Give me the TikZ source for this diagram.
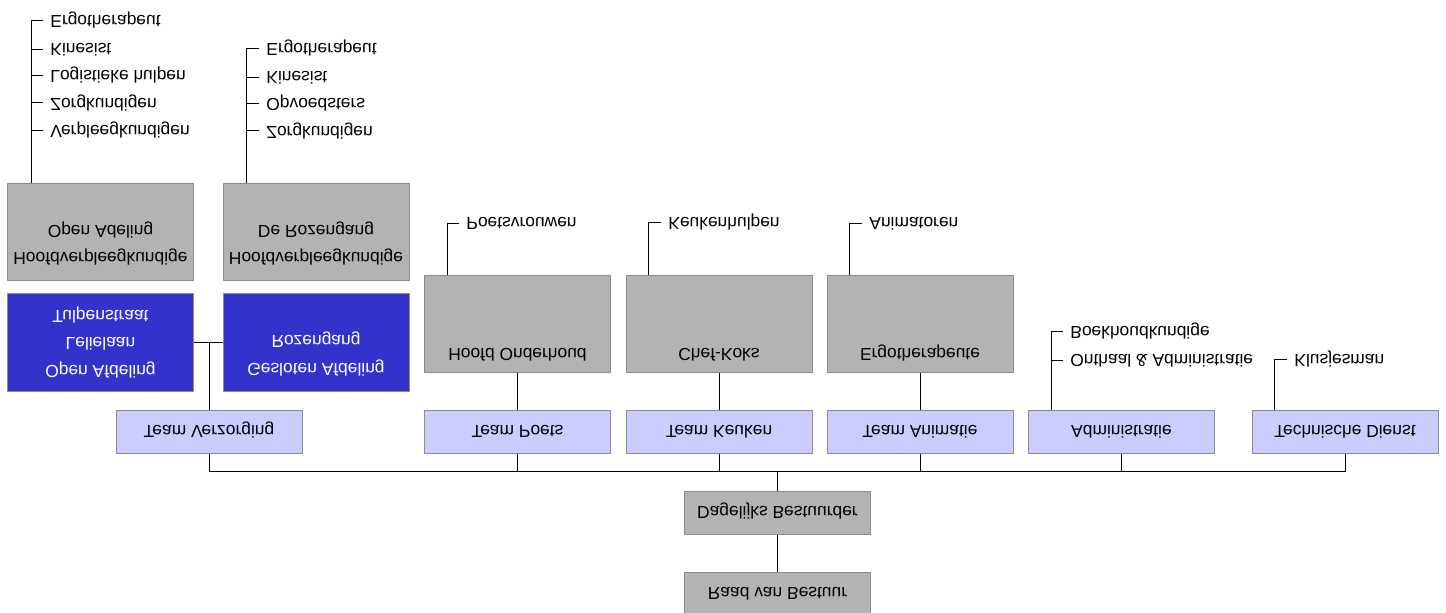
\documentclass[tikz,border=0pt]{standalone}
\usepackage{fontspec}
\setmainfont{Liberation Sans}
\usetikzlibrary{positioning, calc}
\definecolor{orggray}{HTML}{B3B3B3}
\definecolor{orgedge}{HTML}{8C8C8C}
\definecolor{orglilac}{HTML}{CCCCFF}
\definecolor{orgblue}{HTML}{3333CC}

\begin{document}
\begin{tikzpicture}[x=0.5pt, y=0.5pt, yscale=-1,
        every node/.style={transform shape, font=\fontsize{8.7}{13.75}\selectfont},
        chiefbox/.style={draw=orgedge, line width=0.5pt, fill=orggray, minimum width=93pt, minimum height=21.5pt, inner sep=0pt, text height=6.2pt, text depth=0pt},
        teambox/.style={draw=orgedge, line width=0.5pt, fill=orglilac, minimum width=93pt, minimum height=21.5pt, inner sep=0pt, text height=6.2pt, text depth=0pt},
        headbox/.style={draw=orgedge, line width=0.5pt, fill=orggray, minimum width=93pt, minimum height=48.5pt, inner sep=0pt, align=center},
        deptbox/.style={draw=orgedge, line width=0.5pt, fill=orgblue, text=white, minimum width=93pt, minimum height=49pt, inner sep=0pt, align=center},
        item/.style={anchor=mid west, inner xsep=3.5pt, inner ysep=1pt},
        wire/.style={line width=0.5pt}]
        \useasboundingbox (0,0) rectangle (1446,612);

        % top of the chart
        \node [chiefbox] (Raad) at (777.5, 593.5) {Raad van Bestuur};
        \node [chiefbox] (Dag) at (777.5, 512.5) {Dagelijks Bestuurder};
        \coordinate (bus) at (777.5, 471.5);

        % teams
        \node [teambox] (Tverz) at (209, 431.5) {Team Verzorging};
        \node [teambox] (Tpoets) at (517.5, 431.5) {Team Poets};
        \node [teambox] (Tkeuken) at (719, 431.5) {Team Keuken};
        \node [teambox] (Tanim) at (920, 431.5) {Team Animatie};
        \node [teambox] (Tadmin) at (1121.5, 431.5) {Administratie};
        \node [teambox] (Ttech) at (1345, 431.5) {Technische Dienst};

        % heads of the teams
        \node [headbox] (Hpoets) at (517.5, 323.5) {Hoofd Onderhoud\\[4pt]\mbox{}\\\mbox{}};
        \node [headbox] (Hkeuken) at (719, 323.5) {Chef-Koks\\[4pt]\mbox{}\\\mbox{}};
        \node [headbox] (Hanim) at (920, 323.5) {Ergotherapeute\\[4pt]\mbox{}\\\mbox{}};

        % departments of Team Verzorging
        \node [deptbox] (Oa) at (100.5, 342) {Open Afdeling\\Lelielaan\\Tulpenstraat};
        \node [deptbox] (Ga) at (316, 342) {Gesloten Afdeling\\Rozengang\\\mbox{}};
        \node [headbox] (Hoa) at (100.5, 231.5) {Hoofdverpleegkundige\\Open Adeling\\\mbox{}};
        \node [headbox] (Hroz) at (316, 231.5) {Hoofdverpleegkundige\\De Rozengang\\\mbox{}};

        % staff lists
        \node [item] (La) at (43, 21) {Ergotherapeut};
        \node [item] (Lb) at (43, 48.5) {Kinesist};
        \node [item] (Lc) at (43, 76) {Logistieke hulpen};
        \node [item] (Ld) at (43, 103.5) {Zorgkundigen};
        \node [item] (Le) at (43, 131) {Verpleegkundigen};

        \node [item] (Ra) at (259, 49) {Ergotherapeut};
        \node [item] (Rb) at (259, 76.5) {Kinesist};
        \node [item] (Rc) at (259, 104) {Opvoedsters};
        \node [item] (Rd) at (259, 131.5) {Zorgkundigen};

        \node [item] (Ipoets) at (459, 223) {Poetsvrouwen};
        \node [item] (Ikeuken) at (661, 223) {Keukenhulpen};
        \node [item] (Ianim) at (862, 223) {Animatoren};
        \node [item] (Iboek) at (1063, 332) {Boekhoudkundige};
        \node [item] (Ionth) at (1063, 360) {Onthaal \& Administratie};
        \node [item] (Iklus) at (1287, 360) {Klusjesman};

        % connectors
        \draw [wire] (Raad) -- (Dag);
        \draw [wire] (Dag) -- (bus);
        \draw [wire] (Tverz) |- (bus) -| (Ttech);
        \foreach \t in {Tpoets, Tkeuken, Tanim, Tadmin}
            \draw [wire] (\t) -- (\t |- bus);
        \draw [wire] (Tpoets) -- (Hpoets);
        \draw [wire] (Tkeuken) -- (Hkeuken);
        \draw [wire] (Tanim) -- (Hanim);
        \draw [wire] (Oa) -- (Ga);
        \draw [wire] (Tverz) -- (Tverz |- Oa);

        \draw [wire] ([xshift=12pt]Hoa.south west) |- (La.west);
        \draw [wire] ([xshift=12pt]Hroz.south west) |- (Ra.west);
        \draw [wire] ([xshift=11.5pt]Hpoets.south west) |- (Ipoets.west);
        \draw [wire] ([xshift=11.5pt]Hkeuken.south west) |- (Ikeuken.west);
        \draw [wire] ([xshift=11.5pt]Hanim.south west) |- (Ianim.west);
        \draw [wire] ([xshift=11.5pt]Tadmin.south west) |- (Iboek.west);
        \draw [wire] ([xshift=11.5pt]Ttech.south west) |- (Iklus.west);
        \foreach \i in {Lb, Lc, Ld, Le, Rb, Rc, Rd, Ionth}
            \draw [wire] (\i.west) -- ++(-12, 0);
    \end{tikzpicture}
\end{document}
